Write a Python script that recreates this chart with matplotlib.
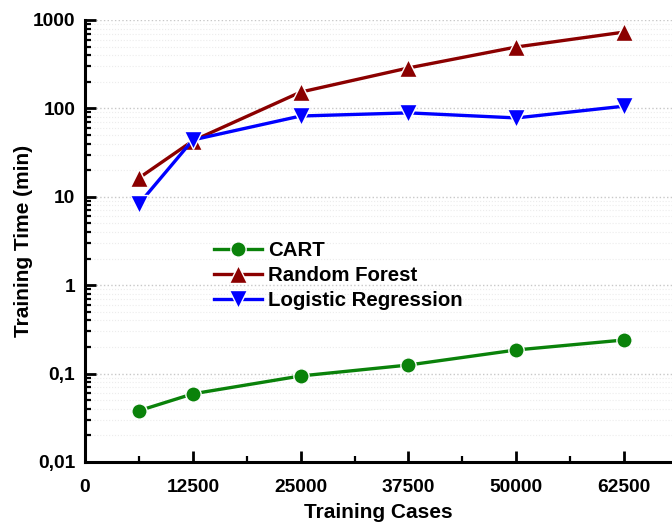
import matplotlib
matplotlib.use("Agg")
import matplotlib.pyplot as plt
from matplotlib.ticker import FixedLocator, LogLocator, FuncFormatter, NullFormatter

plt.rcParams['font.family'] = ['Liberation Sans', 'DejaVu Sans']
plt.rcParams['font.weight'] = 'bold'

cases = [6250, 12500, 25000, 37500, 50000, 62500]
cart = [0.038, 0.059, 0.094, 0.125, 0.185, 0.24]
random_forest = [16.3, 43, 153, 287, 495, 730]
logistic = [8.3, 44, 82, 89, 78, 106]

x_ticks = [0, 12500, 25000, 37500, 50000, 62500]
y_ticks = [0.01, 0.1, 1, 10, 100, 1000]
y_labels = ["0,01", "0,1", "1", "10", "100", "1000"]

fig = plt.figure(figsize=(6.72, 5.29), dpi=100)
ax = fig.add_axes([0.1265, 0.1267, 0.8735, 0.8355])

style = dict(lw=2.4, markeredgecolor="white", markeredgewidth=1.0)
ax.plot(cases, cart, color="#0a820a", marker="o", markersize=11,
        label="CART", **style)
ax.plot(cases, random_forest, color="#8b0000", marker="^", markersize=13,
        label="Random Forest", **style)
ax.plot(cases, logistic, color="#0000ff", marker="v", markersize=13,
        label="Logistic Regression", **style)

ax.set_yscale("log")
ax.set_ylim(0.01, 1000)
ax.set_xlim(0, 68050)

ax.yaxis.set_major_locator(FixedLocator(y_ticks))
ax.yaxis.set_major_formatter(FuncFormatter(lambda v, p: y_labels[y_ticks.index(v)] if v in y_ticks else ""))
ax.yaxis.set_minor_locator(LogLocator(base=10, subs=range(2, 10)))
ax.yaxis.set_minor_formatter(NullFormatter())
ax.xaxis.set_major_locator(FixedLocator(x_ticks))
ax.xaxis.set_minor_locator(FixedLocator([6250, 18750, 31250, 43750, 56250]))
ax.xaxis.set_major_formatter(FuncFormatter(lambda v, p: "%d" % v))

ax.grid(True, which="major", axis="y", color="#c8c8c8", linestyle=":", lw=1.0)
ax.grid(True, which="minor", axis="y", color="#ececec", linestyle=":", lw=0.8)

for side in ("top", "right"):
    ax.spines[side].set_visible(False)
for side in ("left", "bottom"):
    ax.spines[side].set_linewidth(2.2)

ax.tick_params(which="major", direction="in", length=8, width=2, labelsize=13.8, pad=7)
ax.tick_params(which="minor", direction="in", length=4.5, width=1.6)
ax.tick_params(axis="x", which="major", pad=12.5)

ax.set_xlabel("Training Cases", fontsize=15, fontweight="bold", labelpad=5)
ax.set_ylabel("Training Time (min)", fontsize=15, fontweight="bold", labelpad=-0.5)

ax.legend(loc="upper left", bbox_to_anchor=(0.22, 0.5), frameon=False,
          fontsize=14.7, handlelength=2.35, handletextpad=0.3,
          labelspacing=0.3, borderaxespad=0, borderpad=0)

fig.savefig("out.png", dpi=100)
